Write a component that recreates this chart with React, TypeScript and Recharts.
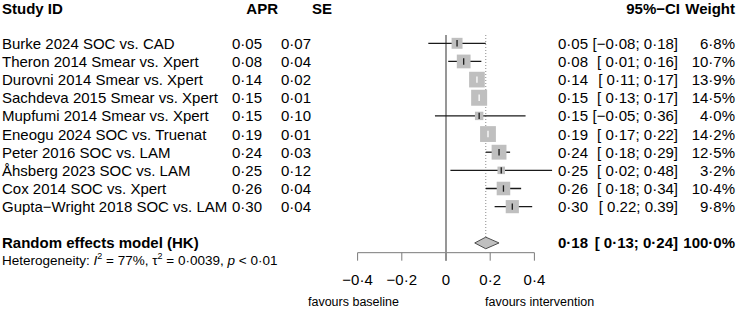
import { ErrorBar, ReferenceLine, Scatter, ScatterChart, XAxis, YAxis } from "recharts";

const studyLabels = [
  "Burke 2024 SOC vs. CAD",
  "Theron 2014 Smear vs. Xpert",
  "Durovni 2014 Smear vs. Xpert",
  "Sachdeva 2015 Smear vs. Xpert",
  "Mupfumi 2014 Smear vs. Xpert",
  "Eneogu 2024 SOC vs. Truenat",
  "Peter 2016 SOC vs. LAM",
  "Åhsberg 2023 SOC vs. LAM",
  "Cox 2014 SOC vs. Xpert",
  "Gupta−Wright 2018 SOC vs. LAM",
];
const apr = [0.05, 0.08, 0.14, 0.15, 0.15, 0.19, 0.24, 0.25, 0.26, 0.3];
const se = [0.07, 0.04, 0.02, 0.01, 0.1, 0.01, 0.03, 0.12, 0.04, 0.04];
const ciLow = [-0.08, 0.01, 0.11, 0.13, -0.05, 0.17, 0.18, 0.02, 0.18, 0.22];
const ciHigh = [0.18, 0.16, 0.17, 0.17, 0.36, 0.22, 0.29, 0.48, 0.34, 0.39];
// printed as in the figure (the last row uses plain dots)
const ciLabels = [
  "[−0·08; 0·18]",
  "[ 0·01; 0·16]",
  "[ 0·11; 0·17]",
  "[ 0·13; 0·17]",
  "[−0·05; 0·36]",
  "[ 0·17; 0·22]",
  "[ 0·18; 0·29]",
  "[ 0·02; 0·48]",
  "[ 0·18; 0·34]",
  "[ 0.22; 0.39]",
];
const weights = [6.8, 10.7, 13.9, 14.5, 4.0, 14.2, 12.5, 3.2, 10.4, 9.8];

const pooledLabel = "Random effects model (HK)";
const pooledApr = 0.18;
const pooledLow = 0.13;
const pooledHigh = 0.24;
const pooledCiLabel = "[ 0·13; 0·24]";
const pooledWeight = 100;

const axisTicks = [-0.4, -0.2, 0, 0.2, 0.4];

/* layout */
const W = 738;
const H = 309;
const ZERO_PX = 446;
const PX_PER_UNIT = 221;
const ROW0_PX = 43.3;
const ROW_STEP = 18.15;
const X_DOMAIN = [-ZERO_PX / PX_PER_UNIT, (W - ZERO_PX) / PX_PER_UNIT];
const Y_DOMAIN = [-ROW0_PX / ROW_STEP, (H - ROW0_PX) / ROW_STEP];

const HEADER_ROW = -1.945;
const REF_TOP_ROW = -0.457;
const POOLED_ROW = 11;
const HET_ROW = 11.95;
const AXIS_ROW = 11.536;
const TICK_END_ROW = 11.977;
const TICK_LABEL_ROW = 13.04;
const FAVOURS_ROW = 14.27;

const FONT = '"Liberation Sans", Arial, Helvetica, sans-serif';
const SQUARE_K = 4.2;

const fmt = (v: number) =>
  (v < 0 ? "−" : "") + Math.abs(v).toFixed(2).replace(".", "·");
const fmtWeight = (w: number) => w.toFixed(1).replace(".", "·") + "%";
const fmtTick = (v: number) =>
  v === 0 ? "0" : (v < 0 ? "−" : "") + Math.abs(v).toFixed(1).replace(".", "·");

const studies = studyLabels.map((label, i) => {
  const side = SQUARE_K * Math.sqrt(weights[i]);
  return {
    x: apr[i],
    y: i,
    label,
    apr: fmt(apr[i]),
    se: fmt(se[i]),
    ci: ciLabels[i],
    weight: fmtWeight(weights[i]),
    w: weights[i],
    err: [apr[i] - ciLow[i], ciHigh[i] - apr[i]],
    // CI drawn white when it fits inside the square
    inside: (ciHigh[i] - ciLow[i]) * PX_PER_UNIT < side,
  };
});

const pooledRow = {
  x: pooledApr,
  y: POOLED_ROW,
  label: pooledLabel,
  est: fmt(pooledApr),
  ci: pooledCiLabel,
  weight: fmtWeight(pooledWeight),
  bold: true,
};

const diamond = [
  { x: pooledLow, y: POOLED_ROW },
  { x: pooledApr, y: POOLED_ROW - 0.32 },
  { x: pooledHigh, y: POOLED_ROW },
  { x: pooledApr, y: POOLED_ROW + 0.32 },
  { x: pooledLow, y: POOLED_ROW },
];

const tickLabels = axisTicks.map((t) => ({ x: t, y: TICK_LABEL_ROW, text: fmtTick(t) }));

const RowText = (props: any) => {
  const { cy, payload } = props;
  const p = payload;
  return (
    <g
      fontFamily={FONT}
      fontSize={15}
      fill="#000"
      fontWeight={p.bold ? 700 : 400}
      dominantBaseline="central"
    >
      <text x={2} y={cy}>
        {p.label}
      </text>
      {p.apr && (
        <text x={262} y={cy} textAnchor="end">
          {p.apr}
        </text>
      )}
      {p.se && (
        <text x={311} y={cy} textAnchor="end">
          {p.se}
        </text>
      )}
      <text x={588} y={cy} textAnchor="end">
        {p.est ?? p.apr}
      </text>
      <text x={678} y={cy} textAnchor="end">
        {p.ci}
      </text>
      <text x={735} y={cy} textAnchor="end">
        {p.weight}
      </text>
    </g>
  );
};

const HeaderText = (props: any) => {
  const { cy } = props;
  return (
    <g fontFamily={FONT} fontSize={15} fontWeight={700} fill="#000" dominantBaseline="central">
      <text x={2} y={cy}>Study ID</text>
      <text x={278} y={cy} textAnchor="end">APR</text>
      <text x={332} y={cy} textAnchor="end">SE</text>
      <text x={680} y={cy} textAnchor="end">95%−CI</text>
      <text x={735} y={cy} textAnchor="end">Weight</text>
    </g>
  );
};

const HetText = (props: any) => {
  const { cy } = props;
  return (
    <text x={2} y={cy} fontFamily={FONT} fontSize={13.5} fill="#000" dominantBaseline="central">
      Heterogeneity: <tspan fontStyle="italic">I</tspan>
      <tspan dy={-4} fontSize={9}>2</tspan>
      <tspan dy={4}> = 77%, τ</tspan>
      <tspan dy={-4} fontSize={9}>2</tspan>
      <tspan dy={4}> = 0·0039, </tspan>
      <tspan fontStyle="italic">p</tspan> {"< 0·01"}
    </text>
  );
};

const FavoursText = (props: any) => {
  const { cx, cy } = props;
  return (
    <g fontFamily={FONT} fontSize={12.5} fill="#000" dominantBaseline="central">
      <text x={cx - 47} y={cy} textAnchor="end">favours baseline</text>
      <text x={cx + 39} y={cy}>favours intervention</text>
    </g>
  );
};

const TickText = (props: any) => {
  const { cx, cy, payload } = props;
  return (
    <text x={cx} y={cy} fontFamily={FONT} fontSize={15} fill="#000" textAnchor="middle" dominantBaseline="central">
      {payload.text}
    </text>
  );
};

const Square = (props: any) => {
  const { cx, cy, payload } = props;
  const s = SQUARE_K * Math.sqrt(payload.w);
  return <rect x={cx - s / 2} y={cy - s / 2} width={s} height={s} fill="#bfbfbf" />;
};

const EstTick = (color: string) => (props: any) => {
  const { cx, cy } = props;
  return <line x1={cx} x2={cx} y1={cy - 3.2} y2={cy + 3.2} stroke={color} strokeWidth={1.3} />;
};

const Nothing = () => <g />;

const App = () => (
  <div>
    <style>{"body{margin:0}"}</style>
    <ScatterChart width={W} height={H} margin={{ top: 0, right: 0, bottom: 0, left: 0 }}>
      <XAxis type="number" dataKey="x" domain={X_DOMAIN} allowDataOverflow hide ticks={axisTicks} />
      <YAxis type="number" dataKey="y" domain={Y_DOMAIN} allowDataOverflow reversed hide />

      {/* axis */}
      <ReferenceLine
        segment={[
          { x: axisTicks[0], y: AXIS_ROW },
          { x: axisTicks[axisTicks.length - 1], y: AXIS_ROW },
        ]}
        stroke="#7a7a7a"
        strokeWidth={1}
        ifOverflow="visible"
      />
      {axisTicks.map((t) => (
        <ReferenceLine
          key={t}
          segment={[
            { x: t, y: AXIS_ROW },
            { x: t, y: TICK_END_ROW },
          ]}
          stroke="#7a7a7a"
          strokeWidth={1}
          ifOverflow="visible"
        />
      ))}
      <ReferenceLine
        segment={[
          { x: 0, y: REF_TOP_ROW },
          { x: 0, y: TICK_END_ROW },
        ]}
        stroke="#8c8c8c"
        strokeWidth={1.8}
        ifOverflow="visible"
      />
      <ReferenceLine
        segment={[
          { x: pooledApr, y: REF_TOP_ROW },
          { x: pooledApr, y: POOLED_ROW - 0.32 },
        ]}
        stroke="#8c8c8c"
        strokeWidth={1}
        strokeDasharray="1 2"
        ifOverflow="visible"
      />

      <Scatter data={studies} shape={Square} isAnimationActive={false} />
      <Scatter data={studies.filter((s) => !s.inside)} shape={EstTick("#1a1a1a")} isAnimationActive={false}>
        <ErrorBar dataKey="err" direction="x" width={0} stroke="#1a1a1a" strokeWidth={1.3} isAnimationActive={false} />
      </Scatter>
      <Scatter data={studies.filter((s) => s.inside)} shape={EstTick("#ffffff")} isAnimationActive={false}>
        <ErrorBar dataKey="err" direction="x" width={0} stroke="#ffffff" strokeWidth={1.3} isAnimationActive={false} />
      </Scatter>

      <Scatter
        data={diamond}
        shape={Nothing}
        line={{ fill: "#bfbfbf", stroke: "#4d4d4d", strokeWidth: 1 }}
        lineJointType="linear"
        isAnimationActive={false}
      />

      <Scatter data={[...studies, pooledRow]} shape={RowText} isAnimationActive={false} />
      <Scatter data={[{ x: 0, y: HEADER_ROW }]} shape={HeaderText} isAnimationActive={false} />
      <Scatter data={[{ x: 0, y: HET_ROW }]} shape={HetText} isAnimationActive={false} />
      <Scatter data={tickLabels} shape={TickText} isAnimationActive={false} />
      <Scatter data={[{ x: 0, y: FAVOURS_ROW }]} shape={FavoursText} isAnimationActive={false} />
    </ScatterChart>
  </div>
);

export default App;
